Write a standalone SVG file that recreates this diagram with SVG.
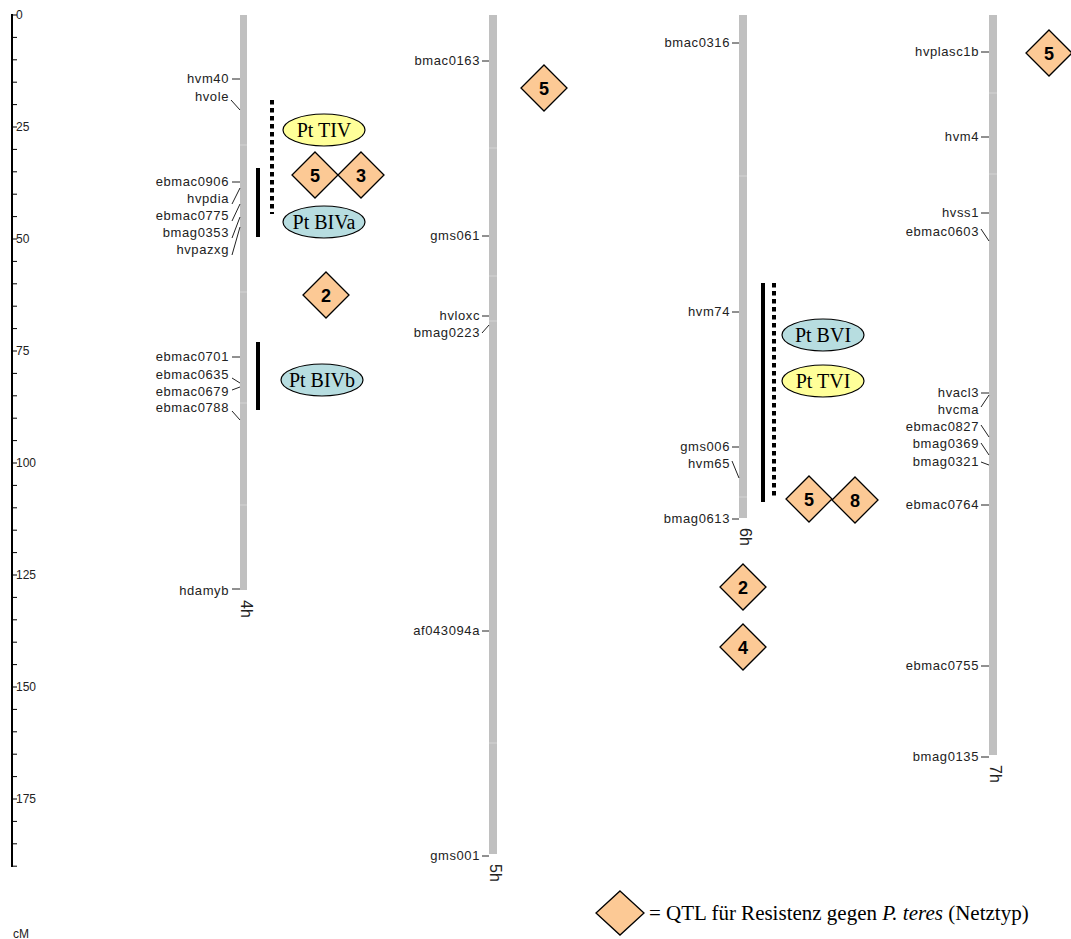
<svg xmlns="http://www.w3.org/2000/svg" width="1071" height="939" viewBox="0 0 1071 939">
<style>
.chr{fill:#c0c0c0}
.seg{stroke:#d4d4d4;stroke-width:1}
.ml{font-family:"Liberation Sans",Arial,sans-serif;font-size:13px;fill:#222;text-anchor:end;letter-spacing:0.6px}
.mk{stroke:#222;stroke-width:1;fill:none}
.ax{font-family:"Liberation Sans",Arial,sans-serif;font-size:12px;fill:#222}
.cl{font-family:"Liberation Sans",Arial,sans-serif;font-size:16px;fill:#222}
.dia{fill:#fcc995;stroke:#000;stroke-width:1.3}
.dn{font-family:"Liberation Sans",Arial,sans-serif;font-size:18px;font-weight:bold;fill:#000;text-anchor:middle}
.ellB{fill:#b7dde0;stroke:#000;stroke-width:1.2}
.ellT{fill:#ffff99;stroke:#000;stroke-width:1.2}
.et{font-family:"Liberation Serif","Times New Roman",serif;font-size:20px;fill:#000;text-anchor:middle}
.sol{stroke:#000;stroke-width:4}
.dot{stroke:#000;stroke-width:4;stroke-dasharray:4.5 3.5}
</style>
<defs>
<polygon id="d" points="0,-23 23,0 0,23 -23,0"/>
</defs>

<g id="axis">
<line x1="12" y1="14" x2="12" y2="867" stroke="#000" stroke-width="2"/>
<path stroke="#000" stroke-width="1" d="M12,15H17M12,37.4H17M12,59.8H17M12,82.2H17M12,104.6H17M12,127H17M12,149.4H17M12,171.8H17M12,194.2H17M12,216.6H17M12,239H17M12,261.4H17M12,283.8H17M12,306.2H17M12,328.6H17M12,351H17M12,373.4H17M12,395.8H17M12,418.2H17M12,440.6H17M12,463H17M12,485.4H17M12,507.8H17M12,530.2H17M12,552.6H17M12,575H17M12,597.4H17M12,619.8H17M12,642.2H17M12,664.6H17M12,687H17M12,709.4H17M12,731.8H17M12,754.2H17M12,776.6H17M12,799H17M12,821.4H17M12,843.8H17M12,866.2H17"/>
<text class="ax" x="16" y="19">0</text>
<text class="ax" x="16" y="131">25</text>
<text class="ax" x="16" y="243">50</text>
<text class="ax" x="16" y="355">75</text>
<text class="ax" x="16" y="467">100</text>
<text class="ax" x="16" y="579">125</text>
<text class="ax" x="16" y="691">150</text>
<text class="ax" x="16" y="803">175</text>
<text class="ax" x="13" y="938">cM</text>
</g>

<g id="chr4h">
<rect class="chr" x="240" y="15" width="7" height="575"/>
<path class="seg" d="M240,145H247M240,292H247M240,403H247M240,505H247"/>
<text class="cl" transform="translate(241,600) rotate(90)">4h</text>
<path class="mk" d="M232,79H240M231,100L240,110M232,182H240M232,204L240,188M232,221L240,204M232,238L240,217M232,255L240,227M232,357H240M232,378L240,383M232,390L240,387M232,411L240,420M232,589H240"/>
<text class="ml" x="229" y="83">hvm40</text>
<text class="ml" x="229" y="101">hvole</text>
<text class="ml" x="229" y="186">ebmac0906</text>
<text class="ml" x="229" y="203">hvpdia</text>
<text class="ml" x="229" y="220">ebmac0775</text>
<text class="ml" x="229" y="237">bmag0353</text>
<text class="ml" x="229" y="254">hvpazxg</text>
<text class="ml" x="229" y="361">ebmac0701</text>
<text class="ml" x="229" y="379">ebmac0635</text>
<text class="ml" x="229" y="396">ebmac0679</text>
<text class="ml" x="229" y="412">ebmac0788</text>
<text class="ml" x="229" y="595">hdamyb</text>
</g>

<g id="chr5h">
<rect class="chr" x="489" y="15" width="8" height="839"/>
<path class="seg" d="M489,148H497M489,276H497M489,321H497M489,743H497"/>
<text class="cl" transform="translate(490,864) rotate(90)">5h</text>
<path class="mk" d="M482,61H489M482,236H489M482,316H489M482,333L489,325M482,631H489M482,856H489"/>
<text class="ml" x="480" y="65">bmac0163</text>
<text class="ml" x="480" y="240">gms061</text>
<text class="ml" x="480" y="320">hvloxc</text>
<text class="ml" x="480" y="337">bmag0223</text>
<text class="ml" x="480" y="635">af043094a</text>
<text class="ml" x="480" y="860">gms001</text>
</g>

<g id="chr6h">
<rect class="chr" x="739" y="15" width="8" height="503"/>
<path class="seg" d="M739,176H747M739,497H747"/>
<text class="cl" transform="translate(740,528) rotate(90)">6h</text>
<path class="mk" d="M732,43H739M732,312H739M732,447H739M732,461L739,478M732,519H739"/>
<text class="ml" x="730" y="47">bmac0316</text>
<text class="ml" x="730" y="316">hvm74</text>
<text class="ml" x="730" y="451">gms006</text>
<text class="ml" x="730" y="468">hvm65</text>
<text class="ml" x="730" y="523">bmag0613</text>
</g>

<g id="chr7h">
<rect class="chr" x="989" y="15" width="8" height="740"/>
<path class="seg" d="M989,93H997M989,174H997"/>
<text class="cl" transform="translate(990,765) rotate(90)">7h</text>
<path class="mk" d="M981,52H989M981,137H989M981,213H989M981,229L989,241M981,393H989M981,407L989,395M981,425L989,437M981,443L989,455M981,462L989,465M981,505H989M981,666H989M981,757H989"/>
<text class="ml" x="979" y="56">hvplasc1b</text>
<text class="ml" x="979" y="141">hvm4</text>
<text class="ml" x="979" y="217">hvss1</text>
<text class="ml" x="979" y="236">ebmac0603</text>
<text class="ml" x="979" y="397">hvacl3</text>
<text class="ml" x="979" y="414">hvcma</text>
<text class="ml" x="979" y="431">ebmac0827</text>
<text class="ml" x="979" y="448">bmag0369</text>
<text class="ml" x="979" y="466">bmag0321</text>
<text class="ml" x="979" y="509">ebmac0764</text>
<text class="ml" x="979" y="670">ebmac0755</text>
<text class="ml" x="979" y="761">bmag0135</text>
</g>

<g id="intervals">
<line class="sol" x1="258" y1="168" x2="258" y2="237"/>
<line class="dot" x1="272" y1="100" x2="272" y2="214"/>
<line class="sol" x1="258" y1="342" x2="258" y2="410"/>
<line class="sol" x1="763" y1="283" x2="763" y2="502"/>
<line class="dot" x1="774" y1="283" x2="774" y2="498"/>
</g>

<g id="qtl-ellipses">
<g id="pt-tiv"><ellipse class="ellT" cx="324" cy="130" rx="41" ry="16"/><text class="et" x="324" y="137">Pt TIV</text></g>
<g id="pt-biva"><ellipse class="ellB" cx="324" cy="222" rx="41" ry="16"/><text class="et" x="324" y="229">Pt BIVa</text></g>
<g id="pt-bivb"><ellipse class="ellB" cx="322" cy="380" rx="41" ry="16"/><text class="et" x="322" y="387">Pt BIVb</text></g>
<g id="pt-bvi"><ellipse class="ellB" cx="823" cy="335" rx="41" ry="16"/><text class="et" x="823" y="342">Pt BVI</text></g>
<g id="pt-tvi"><ellipse class="ellT" cx="823" cy="381" rx="41" ry="16"/><text class="et" x="823" y="388">Pt TVI</text></g>
</g>

<g id="qtl-diamonds">
<g id="q4h-5"><use href="#d" class="dia" x="315" y="175"/><text class="dn" x="315" y="182">5</text></g>
<g id="q4h-3"><use href="#d" class="dia" x="361" y="175"/><text class="dn" x="361" y="182">3</text></g>
<g id="q4h-2"><use href="#d" class="dia" x="326" y="295"/><text class="dn" x="326" y="302">2</text></g>
<g id="q5h-5"><use href="#d" class="dia" x="544" y="88"/><text class="dn" x="544" y="95">5</text></g>
<g id="q6h-5"><use href="#d" class="dia" x="809" y="499"/><text class="dn" x="809" y="506">5</text></g>
<g id="q6h-8"><use href="#d" class="dia" x="855" y="500"/><text class="dn" x="855" y="507">8</text></g>
<g id="q6h-2"><use href="#d" class="dia" x="743" y="587"/><text class="dn" x="743" y="594">2</text></g>
<g id="q6h-4"><use href="#d" class="dia" x="743" y="647"/><text class="dn" x="743" y="654">4</text></g>
<g id="q7h-5"><use href="#d" class="dia" x="1049" y="53"/><text class="dn" x="1049" y="60">5</text></g>
</g>

<g id="legend">
<polygon class="dia" points="620,891 644,913 620,935 596,913"/>
<text x="649" y="920" font-family="'Liberation Serif','Times New Roman',serif" font-size="21" fill="#000">= QTL für Resistenz gegen <tspan font-style="italic">P. teres</tspan> (Netztyp)</text>
</g>
</svg>
